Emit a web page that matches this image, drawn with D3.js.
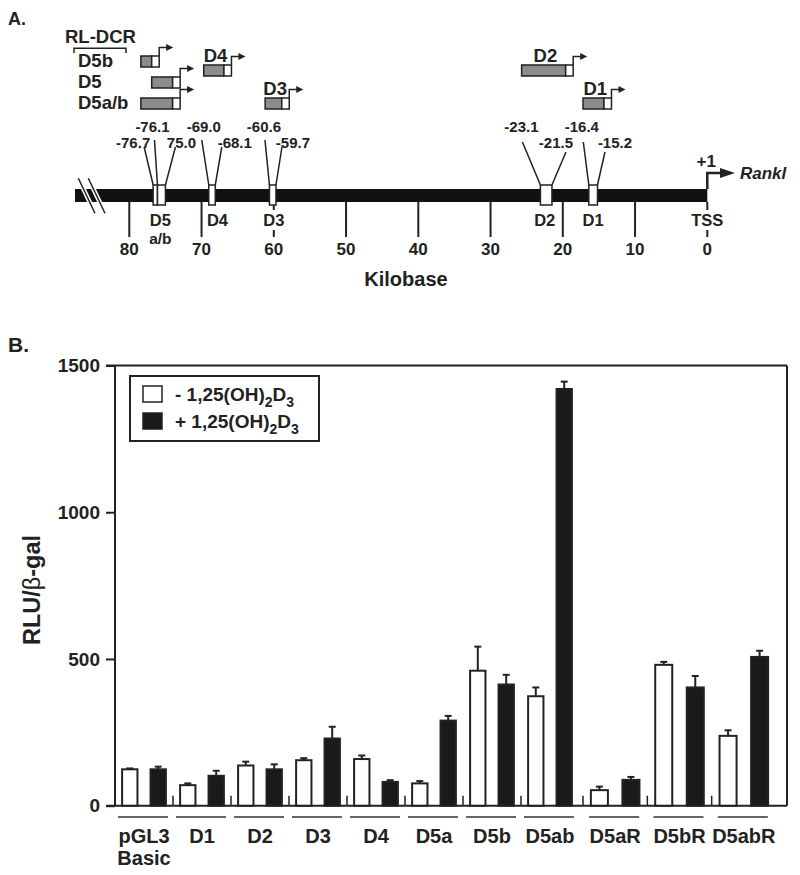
<!DOCTYPE html>
<html><head><meta charset="utf-8">
<script src="https://cdn.jsdelivr.net/npm/d3@7"></script>
<style>
body{margin:0;background:#fff;}
svg text{font-family:"Liberation Sans",Arial,Helvetica,sans-serif;font-weight:bold;fill:#222;}
</style></head><body>
<svg id="c" width="800" height="875"></svg>
<script>
// ---------- Panel A data ----------
const kbTicks = [80,70,60,50,40,30,20,10,0];
const enhancerNames = ['D5','D4','D3','D2','D1'];
const enhancerBounds = [[76.7,76.1,75.0],[69.0,68.1],[60.6,59.7],[23.1,21.5],[16.4,15.2]];
const boundaryLabels = ['-76.7','-76.1','75.0','-69.0','-68.1','-60.6','-59.7','-23.1','-21.5','-16.4','-15.2'];
const boundaryKb = [76.7,76.1,75.0,69.0,68.1,60.6,59.7,23.1,21.5,16.4,15.2];
const featureNames = ['D5','D4','D3','D2','D1','TSS'];
const featureSub = ['a/b','','','','',''];
const featureKb = [75.7,67.8,60,22.5,15.8,0];
const constructNames = ['D5b','D5','D5a/b','D4','D3','D2','D1'];
const constructFrom = [78.4,76.9,78.4,69.7,61.2,25.7,17.2];
const constructTo = [76.9,74.0,74.0,66.9,58.9,19.6,14.3];
const constructLevel = [0,2,3,1,3,1,3];

// ---------- Panel B data ----------
const groupsWT = ['pGL3\nBasic','D1','D2','D3','D4','D5a','D5b','D5ab'];
const groupsMut = ['D5aR','D5bR','D5abR'];
const groups = groupsWT.concat(groupsMut);
const seriesKeys = ['minus','plus'];
const minusVals = [124,70,137,155,159,76,460,373,53,480,238];
const minusErr  = [3,6,13,7,12,8,82,30,12,10,19];
const plusVals  = [124,102,124,229,81,290,413,1420,88,403,507];
const plusErr   = [9,17,17,40,6,16,33,25,10,39,21];
const yTicks = [0,500,1000,1500];

const INK = '#222';
const svg = d3.select('#c');

// ================= PANEL A =================
const A = svg.append('g');
A.append('text').attr('x',8).attr('y',25).attr('font-size',18).text('A.');

const xKb = d3.scaleLinear().domain([80,0]).range([129.3,707.3]);
const barTop = 189, barBot = 202;

A.append('rect').attr('x',75).attr('y',barTop).attr('width',xKb(0)-75).attr('height',barBot-barTop).attr('fill','#111');

// break mark
const breakLines = [[78.3,95],[88.3,105]];
breakLines.forEach(([x1,x2])=>{
  A.append('line').attr('x1',x1).attr('y1',178.3).attr('x2',x2).attr('y2',213.3).attr('stroke','#fff').attr('stroke-width',4.5);
});
breakLines.forEach(([x1,x2])=>{
  A.append('line').attr('x1',x1).attr('y1',178.3).attr('x2',x2).attr('y2',213.3).attr('stroke',INK).attr('stroke-width',1.5);
});

// ticks
kbTicks.forEach(k=>{
  const x = xKb(k);
  const blocked = featureKb.some(f=>Math.abs(xKb(f)-x)<4);
  if(blocked){
    A.append('line').attr('x1',x).attr('x2',x).attr('y1',barBot).attr('y2',210).attr('stroke',INK).attr('stroke-width',2);
    A.append('line').attr('x1',x).attr('x2',x).attr('y1',230).attr('y2',237).attr('stroke',INK).attr('stroke-width',2);
  } else {
    A.append('line').attr('x1',x).attr('x2',x).attr('y1',barBot).attr('y2',237).attr('stroke',INK).attr('stroke-width',2);
  }
  A.append('text').attr('x',x).attr('y',255).attr('text-anchor','middle').attr('font-size',17).text(k);
});
A.append('text').attr('x',406).attr('y',286).attr('text-anchor','middle').attr('font-size',20).text('Kilobase');

// feature labels under bar
featureNames.forEach((n,i)=>{
  const x = xKb(featureKb[i]);
  A.append('text').attr('x',x).attr('y',226).attr('text-anchor','middle').attr('font-size',16.5).text(n);
  if(featureSub[i]) A.append('text').attr('x',x).attr('y',244).attr('text-anchor','middle').attr('font-size',15.5).text(featureSub[i]);
});

// TSS arrow
const xT = xKb(0);
A.append('path').attr('d',`M${xT},${barTop} V173 H722`).attr('fill','none').attr('stroke',INK).attr('stroke-width',2.5);
A.append('path').attr('d',`M720,168 L735,173 L720,178 Z`).attr('fill',INK);
A.append('text').attr('x',xT-1).attr('y',167).attr('text-anchor','middle').attr('font-size',17).text('+1');
A.append('text').attr('x',740).attr('y',179).attr('font-size',17).attr('font-style','italic').text('Rankl');

// connectors + labels (layout tweaks only)
const connectorLayout = {
 '-76.7': {row:2, lean:-9,  ldx:-11, top:147},
 '-76.1': {row:1, lean:-3,  ldx:-2,  top:140},
 '75.0':  {row:2, lean:10,  ldx:6,   top:147},
 '-69.0': {row:1, lean:-7,  ldx:2,   top:140},
 '-68.1': {row:2, lean:6.5, ldx:13,  top:147},
 '-60.6': {row:1, lean:-4.5,ldx:-1,  top:140},
 '-59.7': {row:2, lean:6,   ldx:11,  top:147},
 '-23.1': {row:1, lean:-18, ldx:-1,  top:142},
 '-21.5': {row:2, lean:14,  ldx:-10, top:152},
 '-16.4': {row:1, lean:-5.5,ldx:-1.5,top:142},
 '-15.2': {row:2, lean:7.5, ldx:10,  top:152}
};
const boxTop = 185, boxBot = 205;
boundaryLabels.forEach((lab,i)=>{
  const L = connectorLayout[lab];
  const x = xKb(boundaryKb[i]);
  const xt = x + L.lean;
  A.append('line').attr('x1',x).attr('y1',boxTop).attr('x2',xt).attr('y2',L.top).attr('stroke',INK).attr('stroke-width',1.5);
  A.append('text').attr('x',xt+L.ldx).attr('y',L.row===1?132:148).attr('text-anchor','middle').attr('font-size',15).text(lab);
});
enhancerBounds.forEach(b=>{
  for(let j=0;j<b.length-1;j++){
    const xa = xKb(b[j]), xb = xKb(b[j+1]);
    A.append('rect').attr('x',xa).attr('y',boxTop).attr('width',xb-xa).attr('height',boxBot-boxTop)
      .attr('fill','#fff').attr('stroke',INK).attr('stroke-width',1.5);
  }
});

// constructs
A.append('text').attr('x',65).attr('y',43).attr('font-size',18.5).text('RL-DCR');
A.append('path').attr('d','M74,53 V48.3 H126 V53').attr('fill','none').attr('stroke',INK).attr('stroke-width',1.5);
const levelY = d3.scaleOrdinal().domain([0,1,2,3]).range([56,65,77,98]);
const boxH = 11, tailW = 7.5;
constructNames.forEach((n,i)=>{
  const y = levelY(constructLevel[i]);
  const xa = xKb(constructFrom[i]), xb = xKb(constructTo[i]);
  A.append('rect').attr('x',xa).attr('y',y).attr('width',xb-xa).attr('height',boxH).attr('fill','#8c8c8c').attr('stroke',INK).attr('stroke-width',1.5);
  A.append('rect').attr('x',xb).attr('y',y).attr('width',tailW).attr('height',boxH).attr('fill','#fff').attr('stroke',INK).attr('stroke-width',1.5);
  const xe = xb + tailW;
  A.append('path').attr('d',`M${xe},${y} V${y-8.5} H${xe+8}`).attr('fill','none').attr('stroke',INK).attr('stroke-width',1.5);
  A.append('path').attr('d',`M${xe+7},${y-12} L${xe+14},${y-8.5} L${xe+7},${y-5} Z`).attr('fill',INK);
  if(n.startsWith('D5')){
    A.append('text').attr('x',78).attr('y',y+boxH).attr('font-size',18.5).text(n);
  } else {
    A.append('text').attr('x',(xa+xe)/2-2).attr('y',y-3.5).attr('text-anchor','middle').attr('font-size',18.5).text(n);
  }
});

// ================= PANEL B =================
const B = svg.append('g');
B.append('text').attr('x',8).attr('y',352).attr('font-size',21).text('B.');

const y = d3.scaleLinear().domain([0,1500]).range([805.7,365.5]);
const xL = 115, xR = 787;
const xWT = d3.scaleBand().domain(groupsWT).range([115,579]);
const xMut = d3.scaleBand().domain(groupsMut).range([583,776]);
const bandOf = g => groupsWT.includes(g) ? xWT : xMut;
const innerOf = sc => d3.scaleBand().domain(seriesKeys).range([0,sc.bandwidth()]).paddingInner(0.46).paddingOuter(0.25);
const x1WT = innerOf(xWT), x1Mut = innerOf(xMut);
const innerFor = g => groupsWT.includes(g) ? x1WT : x1Mut;

// axis
const yAxis = d3.axisLeft(y).tickValues(yTicks).tickSize(9).tickPadding(6).tickFormat(d3.format('d'));
const ga = B.append('g').attr('transform',`translate(${xL},0)`).call(yAxis);
ga.select('.domain').remove();
ga.selectAll('.tick line').attr('stroke',INK).attr('stroke-width',2);
ga.selectAll('.tick text').attr('font-size',19).attr('fill',INK).attr('font-family','"Liberation Sans",Arial,sans-serif').attr('font-weight','bold');
B.append('line').attr('x1',xL).attr('x2',xL).attr('y1',y(1500)).attr('y2',y(0)).attr('stroke',INK).attr('stroke-width',2);
B.append('line').attr('x1',xL-9).attr('x2',xR).attr('y1',y(0)).attr('y2',y(0)).attr('stroke',INK).attr('stroke-width',2);
B.append('line').attr('x1',xL-9).attr('x2',xR).attr('y1',y(1500)).attr('y2',y(1500)).attr('stroke',INK).attr('stroke-width',2);
B.append('line').attr('x1',xR).attr('x2',xR).attr('y1',y(1500)).attr('y2',y(0)).attr('stroke',INK).attr('stroke-width',2);

// y title
const yt = B.append('text').attr('transform','translate(40,590) rotate(-90)').attr('text-anchor','middle').attr('font-size',23.5);
yt.append('tspan').text('RLU/');
yt.append('tspan').attr('font-weight','normal').text('β');
yt.append('tspan').text('-gal');

// group separator ticks
groups.forEach((g,i)=>{
  if(i===0) return;
  const x = bandOf(g)(g);
  B.append('line').attr('x1',x).attr('x2',x).attr('y1',y(0)-10).attr('y2',y(0)).attr('stroke',INK).attr('stroke-width',1.5);
});

// bars
const rows = groups.map((g,i)=>({g, minus:{v:minusVals[i],e:minusErr[i]}, plus:{v:plusVals[i],e:plusErr[i]}}));
rows.forEach(r=>{
  const sc = bandOf(r.g), inner = innerFor(r.g);
  seriesKeys.forEach(k=>{
    const bx = sc(r.g)+inner(k), bw = inner.bandwidth();
    const d = r[k];
    const cx = bx+bw/2;
    B.append('line').attr('x1',cx).attr('x2',cx).attr('y1',y(d.v)).attr('y2',y(d.v+d.e)).attr('stroke',INK).attr('stroke-width',2);
    B.append('line').attr('x1',cx-3.5).attr('x2',cx+3.5).attr('y1',y(d.v+d.e)).attr('y2',y(d.v+d.e)).attr('stroke',INK).attr('stroke-width',2);
    B.append('rect').attr('x',bx).attr('y',y(d.v)).attr('width',bw).attr('height',y(0)-y(d.v))
      .attr('fill',k==='minus'?'#fff':'#1a1a1a').attr('stroke',INK).attr('stroke-width',2);
  });
  const c = sc(r.g)+sc.bandwidth()/2;
  B.append('line').attr('x1',c-26).attr('x2',c+24).attr('y1',817).attr('y2',817).attr('stroke','#333').attr('stroke-width',1.5);
  r.g.split('\n').forEach((ln,j)=>{
    B.append('text').attr('x',c).attr('y',843+j*22).attr('text-anchor','middle').attr('font-size',20).text(ln);
  });
});

// legend
B.append('rect').attr('x',130).attr('y',376).attr('width',189).attr('height',65).attr('fill','#fff').attr('stroke',INK).attr('stroke-width',2);
const legendY = [401,428];
seriesKeys.forEach((k,i)=>{
  B.append('rect').attr('x',143).attr('y',legendY[i]-15).attr('width',19).attr('height',16)
    .attr('fill',k==='minus'?'#fff':'#1a1a1a').attr('stroke',INK).attr('stroke-width',1.5);
  const t = B.append('text').attr('x',175).attr('y',legendY[i]).attr('font-size',19);
  t.append('tspan').text((k==='minus'?'- ':'+ ')+'1,25(OH)');
  t.append('tspan').attr('font-size',14).attr('dy',6).text('2');
  t.append('tspan').attr('dy',-6).text('D');
  t.append('tspan').attr('font-size',14).attr('dy',6).text('3');
});
</script>
</body></html>
